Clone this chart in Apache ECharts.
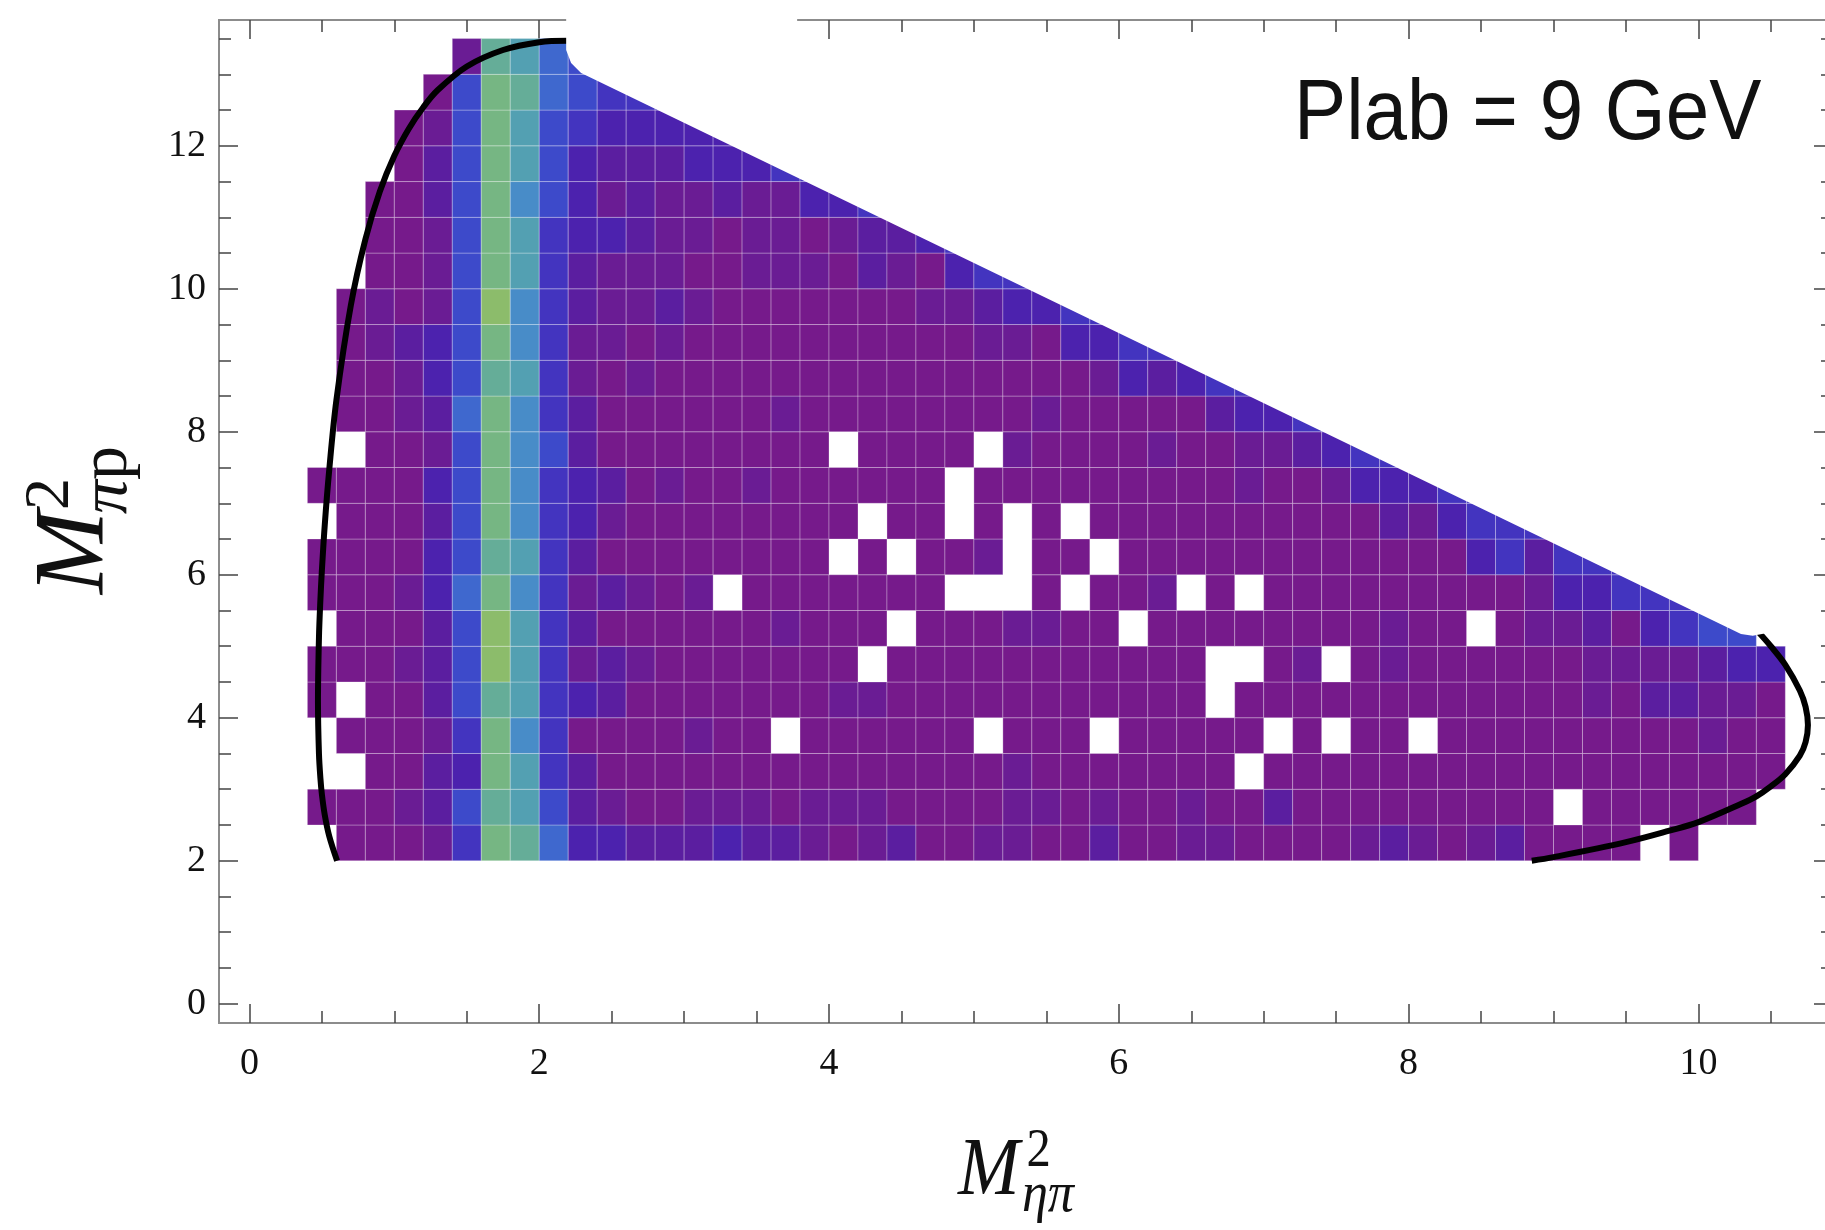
<!DOCTYPE html>
<html>
<head>
<meta charset="utf-8">
<title>Dalitz plot, Plab = 9 GeV</title>
<script src="https://cdn.jsdelivr.net/npm/echarts@6/dist/echarts.min.js"></script>
<style>
  html, body { margin: 0; padding: 0; background: #ffffff; }
  #chart { width: 1825px; height: 1230px; }
</style>
</head>
<body>
<div id="chart"></div>
<script>
// histogram bins: 0.2 wide in M2(eta pi), 0.5 high in M2(pi p)
var binW = 0.2;
var binH = 0.5;
var xStart = 0.4;
var yStart = 2.0;

// colour level of every bin, one string per row, bottom row (2.0-2.5) first.
// column c starts at x = 0.4 + 0.2*c, written in groups of five columns.
// '.' = empty bin ; 0-9,a,b = level
var rows = [
  ".0001 4a963 32223 22101 20011 00200 11000 01210 12000 0.0.. .",
  "00012 59852 10011 10111 00001 10100 10020 00000 000.0 00000 .",
  "..002 3a842 00000 00000 00001 00000 00.00 00000 00000 00000 0",
  ".0001 4a740 00010 0.000 000.0 00.00 000.0 .00.0 00000 00010 0",
  "0.002 59843 20000 00011 00000 00000 0.000 00000 00001 02211 0",
  "00012 5b841 21000 0000. 00000 00000 0..01 .0100 00001 11123 3",
  ".0002 5b842 00000 01000 .0001 100.0 00000 00100 .0112 03455 .",
  "00013 6a741 2101. 00000 00... 0.001 .0.00 00000 00133 444.. .",
  "00003 59842 00000 000.0 .001. 00.00 00000 00000 34244 4.... .",
  ".0002 5a743 10000 0000. 00.0. 0.000 00000 00213 444.. ..... .",
  "00003 5a743 20100 10000 00.00 00000 00100 13334 4.... ..... .",
  "..001 5a752 00000 000.0 000.1 00001 00112 344.. ..... ..... .",
  ".0012 6a742 00000 01000 00000 10000 02334 4.... ..... ..... .",
  ".0013 59841 01000 00000 00000 00132 344.. ..... ..... ..... .",
  ".0123 5a741 10100 00000 00011 03344 ..... ..... ..... ..... .",
  ".0101 5b742 11210 00000 01123 344.. ..... ..... ..... ..... .",
  "..001 5a842 11100 11102 10344 ..... ..... ..... ..... ..... .",
  "..001 5a843 32110 11012 234.. ..... ..... ..... ..... ..... .",
  "..002 5a753 12112 11334 ..... ..... ..... ..... ..... ..... .",
  "...02 5a853 22233 344.. ..... ..... ..... ..... ..... ..... .",
  "...01 5a854 33333 ..... ..... ..... ..... ..... ..... ..... .",
  "....0 5a965 444.. ..... ..... ..... ..... ..... ..... ..... .",
  "..... 19865 ..... ..... ..... ..... ..... ..... ..... ..... ."
];

var levelColors = ['#761a8b', '#6a1c94', '#5b1ea0', '#4c22ae', '#4334bf', '#3d4aca',
                   '#3f68ce', '#488cc8', '#53a0b2', '#65ad98', '#76b683', '#8cbc6b'];

var xTicks = [0, 0.5, 1, 1.5, 2, 2.5, 3, 3.5, 4, 4.5, 5, 5.5, 6, 6.5, 7, 7.5, 8, 8.5, 9, 9.5, 10, 10.5];
var xLabels = [0, 2, 4, 6, 8, 10];
var yTicks = [0, 0.5, 1, 1.5, 2, 2.5, 3, 3.5, 4, 4.5, 5, 5.5, 6, 6.5, 7, 7.5, 8, 8.5, 9, 9.5,
              10, 10.5, 11, 11.5, 12, 12.5, 13, 13.5];
var yLabels = [0, 2, 4, 6, 8, 10, 12];

// Dalitz boundary (black curve)
var boundaryLeft = [[0.605, 2.0], [0.55, 2.35], [0.52, 2.64], [0.50, 2.93], [0.49, 3.15], [0.48, 3.49],
  [0.473, 4.22], [0.48, 5.13], [0.49, 5.66], [0.50, 6.06], [0.52, 6.70], [0.55, 7.45], [0.60, 8.44],
  [0.70, 9.77], [0.80, 10.69], [0.90, 11.36], [1.0, 11.86], [1.1, 12.24], [1.2, 12.54], [1.3, 12.78],
  [1.5, 13.11], [1.75, 13.34], [2.0, 13.45], [2.2, 13.47]];
var boundaryRight = [[8.85, 2.0], [9.0, 2.05], [9.5, 2.26], [9.8, 2.42], [10.0, 2.54], [10.3, 2.80],
  [10.4, 2.90], [10.5, 3.04], [10.6, 3.21], [10.7, 3.47], [10.74, 3.66], [10.756, 3.90], [10.74, 4.15],
  [10.7, 4.38], [10.6, 4.74], [10.5, 5.0], [10.4, 5.23]];

var cells = [];
rows.forEach(function (row, r) {
  row = row.replace(/ /g, '');
  for (var c = 0; c < row.length; c++) {
    var ch = row.charAt(c);
    if (ch === '.') continue;
    cells.push([+(xStart + c * binW).toFixed(1), +(yStart + r * binH).toFixed(1), parseInt(ch, 16)]);
  }
});

// white patch that hides the upper right corner of the plot
var maskShape = [[2.186, 14.3], [3.78, 14.3], [3.78, 13.72], [4.0, 13.3], [10.62, 6.6], [10.61, 5.48],
  [10.573, 5.315], [10.493, 5.194], [10.375, 5.147], [10.294, 5.17], [2.289, 13.02], [2.22, 13.16],
  [2.186, 13.34]];

var chart = echarts.init(document.getElementById('chart'), null, { renderer: 'canvas' });

var serif = '"Liberation Serif", "DejaVu Serif", serif';
var xMin = -0.21, xMax = 10.929, yMin = -0.27, yMax = 13.76;

function xAxisDef(pos, ticks, len, labels) {
  return {
    type: 'value', position: pos, min: xMin, max: xMax, gridIndex: 0,
    axisLine: { show: true, onZero: false, lineStyle: { color: '#8c8c8c', width: 2 } },
    axisTick: { show: true, inside: true, length: len, customValues: ticks, lineStyle: { color: '#444', width: 1.5 } },
    axisLabel: labels ? { customValues: labels, fontFamily: serif, fontSize: 38, color: '#111', margin: 22 } : { show: false },
    splitLine: { show: false }
  };
}
function yAxisDef(pos, ticks, len, labels) {
  return {
    type: 'value', position: pos, min: yMin, max: yMax, gridIndex: 0,
    axisLine: { show: true, onZero: false, lineStyle: { color: '#8c8c8c', width: 2 } },
    axisTick: { show: true, inside: true, length: len, customValues: ticks, lineStyle: { color: '#444', width: 1.5 } },
    axisLabel: labels ? { customValues: labels, fontFamily: serif, fontSize: 38, color: '#111', margin: 13 } : { show: false },
    splitLine: { show: false }
  };
}

var option = {
  animation: false,
  backgroundColor: '#ffffff',
  grid: { left: 219, right: -8, top: 20, bottom: 207, containLabel: false, outerBoundsMode: 'none' },
  xAxis: [
    xAxisDef('bottom', xTicks, 12, xLabels),
    xAxisDef('bottom', xLabels, 19, null),
    xAxisDef('top', xTicks, 12, null),
    xAxisDef('top', xLabels, 19, null)
  ],
  yAxis: [
    yAxisDef('left', yTicks, 12, yLabels),
    yAxisDef('left', yLabels, 19, null),
    yAxisDef('right', yTicks, 12, null),
    yAxisDef('right', yLabels, 19, null)
  ],
  visualMap: {
    show: false, type: 'continuous', seriesIndex: 0, dimension: 2,
    min: 0, max: 11, inRange: { color: levelColors }
  },
  series: [
    {
      type: 'custom',
      xAxisIndex: 0, yAxisIndex: 0,
      encode: { x: 0, y: 1 },
      data: cells,
      z: 2,
      silent: true,
      renderItem: function (params, api) {
        var x0 = api.value(0), y0 = api.value(1);
        var p0 = api.coord([x0, y0 + binH]);
        var p1 = api.coord([x0 + binW, y0]);
        return {
          type: 'rect',
          shape: { x: p0[0], y: p0[1], width: p1[0] - p0[0], height: p1[1] - p0[1] },
          style: { fill: api.visual('color'), stroke: 'rgba(255,255,255,0.28)', lineWidth: 1 }
        };
      }
    },
    {
      type: 'line', xAxisIndex: 0, yAxisIndex: 0, data: boundaryLeft,
      symbol: 'none', smooth: 0.35, z: 4, silent: true,
      lineStyle: { color: '#000', width: 6 }
    },
    {
      type: 'line', xAxisIndex: 0, yAxisIndex: 0, data: boundaryRight,
      symbol: 'none', smooth: 0.35, z: 4, silent: true,
      lineStyle: { color: '#000', width: 6 }
    },
    {
      type: 'custom', xAxisIndex: 0, yAxisIndex: 0,
      data: [[0, 0]], z: 10, silent: true,
      renderItem: function (params, api) {
        return {
          type: 'polygon',
          shape: { points: maskShape.map(function (p) { return api.coord(p); }) },
          style: { fill: '#ffffff' }
        };
      }
    }
  ],
  graphic: [
    {
      type: 'text', x: 1294, y: 116, scaleX: 0.92, z: 20,
      style: { text: 'Plab = 9 GeV', font: '85px "Liberation Sans", Arial, sans-serif', fill: '#111',
               textAlign: 'left', textVerticalAlign: 'middle' }
    },
    {
      type: 'group', x: 958, y: 1172, scaleX: 0.9, z: 20,
      children: [
        { type: 'text', x: 0, y: 0, style: { text: 'M', font: 'italic 82px ' + serif, fill: '#111', textAlign: 'left', textVerticalAlign: 'middle' } },
        { type: 'text', x: 76, y: -20, style: { text: '2', font: '54px ' + serif, fill: '#111', textAlign: 'left', textVerticalAlign: 'middle' } },
        { type: 'text', x: 71, y: 24, style: { text: 'ηπ', font: 'italic 58px ' + serif, fill: '#111', textAlign: 'left', textVerticalAlign: 'middle' } }
      ]
    },
    {
      type: 'group', x: 76, y: 594, rotation: Math.PI / 2, z: 20,
      children: [
        { type: 'text', x: 0, y: 0, style: { text: 'M', font: 'italic 100px ' + serif, fill: '#111', textAlign: 'left', textVerticalAlign: 'middle' } },
        { type: 'text', x: 84, y: -25, style: { text: '2', font: '64px ' + serif, fill: '#111', textAlign: 'left', textVerticalAlign: 'middle' } },
        { type: 'text', x: 80, y: 32, style: { text: 'π', font: 'italic 68px ' + serif, fill: '#111', textAlign: 'left', textVerticalAlign: 'middle' } },
        { type: 'text', x: 114, y: 32, style: { text: 'p', font: '68px ' + serif, fill: '#111', textAlign: 'left', textVerticalAlign: 'middle' } }
      ]
    }
  ]
};

chart.setOption(option);
</script>
</body>
</html>
